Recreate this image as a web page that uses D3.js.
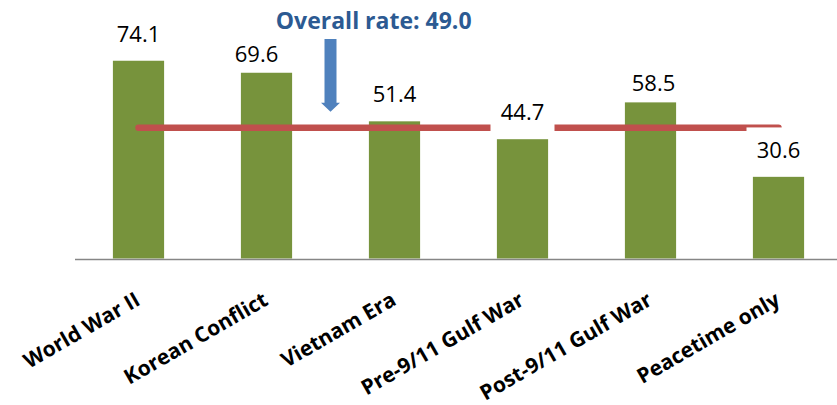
<!DOCTYPE html>
<html>
<head>
<meta charset="utf-8">
<script src="https://cdn.jsdelivr.net/npm/d3@7"></script>
<style>
  body { margin: 0; background: #fff; }
  svg { display: block; font-family: "Open Sans", sans-serif; }
</style>
</head>
<body>
<div id="chart"></div>
<script>
// data
const categories = ['World War II', 'Korean Conflict', 'Vietnam Era',
  'Pre-9/11 Gulf War', 'Post-9/11 Gulf War', 'Peacetime only'];
const rates = [74.1, 69.6, 51.4, 44.7, 58.5, 30.6];
const overallRate = 49.0;
const overallLabel = 'Overall rate: 49.0';

// label placement tweaks (hand placed in the original)
const labelLift = [18.4, 10.4, 19.6, 19.3, 11.6, 18.7];
const labelShift = [0, -10, 0, 0, 3, 0];

const width = 837, height = 405;

const svg = d3.select('#chart').append('svg')
  .attr('width', width).attr('height', height);

const x = d3.scaleBand(categories, [74.5, 842.5])
  .paddingInner(0.6).paddingOuter(0.3);
const y = d3.scaleLinear([0, 80], [258.5, 45]);
const bw = x.bandwidth();
const cx = d => x(d) + bw / 2;

// bars
svg.append('g').selectAll('rect')
  .data(categories)
  .join('rect')
  .attr('x', d => x(d))
  .attr('y', (d, i) => y(rates[i]))
  .attr('width', bw)
  .attr('height', (d, i) => y(0) - y(rates[i]))
  .attr('fill', '#77933C');

// axis
const axis = svg.append('g')
  .attr('transform', `translate(0,${y(0) + 0.5})`)
  .call(d3.axisBottom(x).tickSize(0).tickSizeOuter(0));
axis.select('.domain').attr('stroke', '#868686').attr('stroke-width', 1.6);
axis.selectAll('.tick text')
  .attr('font-family', '"Open Sans", sans-serif')
  .attr('font-size', 21).attr('font-weight', 'bold').attr('fill', '#000')
  .attr('text-anchor', 'end')
  .attr('y', 0).attr('dy', 0)
  .attr('transform', 'translate(3,45) rotate(-30)');

// overall rate line
const lineY = y(overallRate);
svg.append('line')
  .attr('x1', cx(categories[0])).attr('x2', cx(categories[categories.length - 1]))
  .attr('y1', lineY).attr('y2', lineY)
  .attr('stroke', '#C0504D').attr('stroke-width', 6.5)
  .attr('stroke-linecap', 'round');

// value labels with white boxes where they sit over the line
const labels = categories.map((c, i) => ({
  c, v: rates[i], lx: cx(c) + labelShift[i], ly: y(rates[i]) - labelLift[i]
}));
const boxTop = d => d.ly - 15.7 - 15, boxBottom = d => d.ly + 12;
svg.append('g').selectAll('rect')
  .data(labels.filter(d => boxTop(d) < lineY + 3.5 && boxBottom(d) > lineY - 3.5))
  .join('rect')
  .attr('x', d => d.lx - 32).attr('width', 64)
  .attr('y', boxTop).attr('height', d => boxBottom(d) - boxTop(d))
  .attr('fill', '#fff');
svg.append('g').selectAll('text')
  .data(labels)
  .join('text')
  .attr('x', d => d.lx).attr('y', d => d.ly)
  .attr('text-anchor', 'middle')
  .attr('font-size', 22).attr('fill', '#000')
  .text(d => d.v.toFixed(1));

// arrow + annotation
const ax = (cx(categories[1]) + cx(categories[2])) / 2;
const tip = lineY - 16;
svg.append('path')
  .attr('d', `M${ax - 6},39 H${ax + 6} V${tip - 9} H${ax + 9.5} L${ax},${tip} L${ax - 9.5},${tip - 9} H${ax - 6} Z`)
  .attr('fill', '#4F81BD');
svg.append('text')
  .attr('x', 373.7).attr('y', 29)
  .attr('text-anchor', 'middle')
  .attr('font-size', 23).attr('font-weight', 'bold')
  .attr('fill', '#2C5A92')
  .text(overallLabel);
</script>
</body>
</html>
